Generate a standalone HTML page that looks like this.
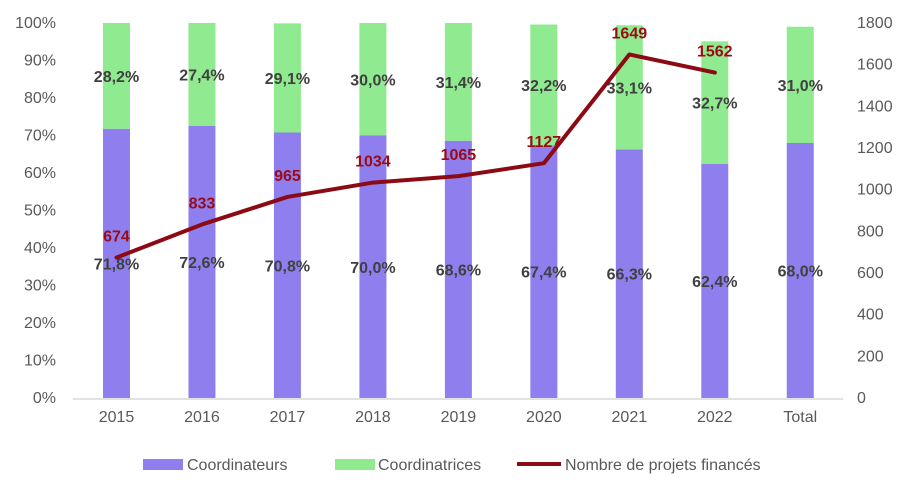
<!DOCTYPE html>
<html><head><meta charset="utf-8"><style>
body{margin:0;background:#fff;font-family:"Liberation Sans",sans-serif}
</style></head><body>
<svg id="c" width="915" height="496" font-family="Liberation Sans, sans-serif"></svg>
<script>
const categories=["2015","2016","2017","2018","2019","2020","2021","2022","Total"];
const coordinateurs=[71.8,72.6,70.8,70.0,68.6,67.4,66.3,62.4,68.0];
const coordinatrices=[28.2,27.4,29.1,30.0,31.4,32.2,33.1,32.7,31.0];
const projets=[674,833,965,1034,1065,1127,1649,1562];
const leftTicks=[0,10,20,30,40,50,60,70,80,90,100];
const rightTicks=[0,200,400,600,800,1000,1200,1400,1600,1800];
const svg=document.getElementById('c');const NS="http://www.w3.org/2000/svg";
const x0=73.75,x1=843,y0=398,yTop=23;
const bw=(x1-x0)/categories.length;
const xc=i=>x0+bw*(i+0.5);
const yL=v=>y0-(v/100)*(y0-yTop);
const yR=v=>y0-(v/1800)*(y0-yTop);
function el(t,a,txt){const e=document.createElementNS(NS,t);for(const k in a)e.setAttribute(k,a[k]);if(txt!==undefined)e.textContent=txt;svg.appendChild(e);return e;}
leftTicks.forEach(v=>{const t=el('text',{x:56,y:yL(v)+5,'text-anchor':'end','font-size':16,fill:'#595959'},v+'%');

});
rightTicks.forEach(v=>{const t=el('text',{x:857,y:yR(v)+5,'text-anchor':'start','font-size':16,fill:'#595959'},v);

});
categories.forEach((c,i)=>{
const cx=xc(i),w=27;
const b1=el('rect',{x:cx-w/2,y:yL(coordinateurs[i]),width:w,height:y0-yL(coordinateurs[i]),fill:'#8f7fee'});


const top=coordinateurs[i]+coordinatrices[i];
const b2=el('rect',{x:cx-w/2,y:yL(top),width:w,height:yL(coordinateurs[i])-yL(top),fill:'#90ea8f'});


const t=el('text',{x:cx,y:422,'text-anchor':'middle','font-size':16,fill:'#595959'},c);


});
const ax=el('line',{x1:x0-1,x2:x1,y1:y0+1,y2:y0+1,stroke:'#d9d9d9','stroke-width':1.5});


categories.forEach((c,i)=>{
const cx=xc(i);
const l1=el('text',{x:cx,y:yL(coordinateurs[i]/2)+6,'text-anchor':'middle','font-size':16,'font-weight':'bold',fill:'#404040'},coordinateurs[i].toFixed(1).replace('.',',')+'%');


const l2=el('text',{x:cx,y:yL(coordinateurs[i]+coordinatrices[i]/2)+6,'text-anchor':'middle','font-size':16,'font-weight':'bold',fill:'#404040'},coordinatrices[i].toFixed(1).replace('.',',')+'%');


});
const pl=el('polyline',{points:projets.map((v,i)=>xc(i)+','+yR(v)).join(' '),fill:'none',stroke:'#8b0a14','stroke-width':4,'stroke-linejoin':'round','stroke-linecap':'round'});


projets.forEach((v,i)=>{const t=el('text',{x:xc(i),y:yR(v)-16,'text-anchor':'middle','font-size':16,'font-weight':'bold',fill:'#9b0b17'},v);

});
const r1=el('rect',{x:143,y:459,width:40,height:11,fill:'#8f7fee'});


const t1=el('text',{x:187,y:470,'font-size':16,fill:'#595959'},'Coordinateurs');


const r2=el('rect',{x:335,y:459,width:40,height:11,fill:'#90ea8f'});


const t2=el('text',{x:378,y:470,'font-size':16,fill:'#595959'},'Coordinatrices');


const r3=el('line',{x1:517,x2:561,y1:464,y2:464,stroke:'#8b0a14','stroke-width':4});


const t3=el('text',{x:565,y:470,'font-size':16,fill:'#595959'},'Nombre de projets financés');


</script>
</body></html>
